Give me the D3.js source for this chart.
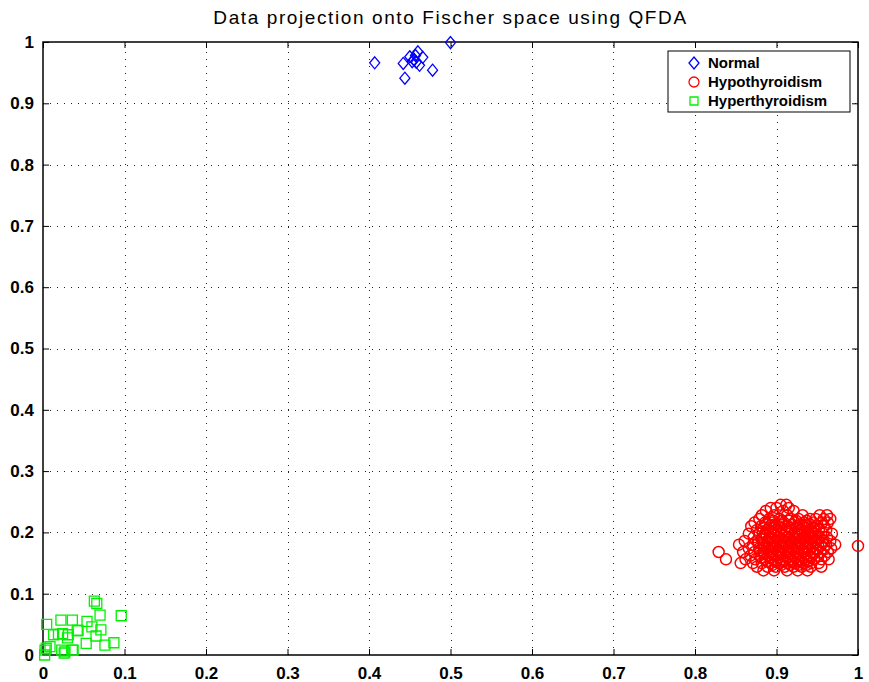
<!DOCTYPE html>
<html>
<head>
<meta charset="utf-8">
<script src="https://cdn.jsdelivr.net/npm/d3@7"></script>
<style>
  body { margin: 0; background: #fff; }
  text { font-family: Arial, "Liberation Sans", Helvetica, sans-serif; }
</style>
</head>
<body>
<div id="chart"></div>
<script>
(function(){
  const width = 869;
  const height = 682;

  // plot box in pixels
  const margin = { left: 43, right: 11, top: 42, bottom: 27 };

  const chartTitle = "Data projection onto Fischer space using QFDA";
  const tickValues = [0, 0.1, 0.2, 0.3, 0.4, 0.5, 0.6, 0.7, 0.8, 0.9, 1];
  const legendLabels = ["Normal", "Hypothyroidism", "Hyperthyroidism"];

  // Normal class (blue diamonds)
  const normalPoints = [
    [0.407, 0.966], [0.442, 0.965], [0.444, 0.941], [0.450, 0.976],
    [0.453, 0.968], [0.455, 0.971], [0.458, 0.967], [0.460, 0.984],
    [0.462, 0.962], [0.457, 0.978], [0.466, 0.975], [0.478, 0.954],
    [0.500, 0.999]
  ];

  // Hyperthyroidism class (green squares)
  const hyperPoints = [
    [0.063, 0.088], [0.066, 0.084], [0.070, 0.065], [0.096, 0.064],
    [0.022, 0.057], [0.036, 0.057], [0.054, 0.055], [0.0045, 0.050],
    [0.060, 0.046], [0.043, 0.040], [0.071, 0.041], [0.065, 0.031],
    [0.013, 0.033], [0.024, 0.035], [0.031, 0.033], [0.030, 0.028],
    [0.019, 0.034], [0.053, 0.019], [0.087, 0.020], [0.076, 0.016],
    [0.0086, 0.0135], [0.0025, 0.008], [0.023, 0.008], [0.036, 0.008],
    [0.026, 0.003], [0.002, 0.000], [0.004, 0.011], [0.037, 0.008],
    [0.042, 0.040], [0.027, 0.005]
  ];

  // Hypothyroidism class (red circles), listed row by row (y, then x values)
  const hypoRows = [
    [0.245, [0.905, 0.912]],
    [0.240, [0.893, 0.900, 0.915]],
    [0.235, [0.887, 0.908, 0.921]],
    [0.228, [0.882, 0.897, 0.913, 0.932, 0.953, 0.962]],
    [0.222, [0.879, 0.891, 0.904, 0.918, 0.927, 0.941, 0.948, 0.958, 0.966]],
    [0.216, [0.873, 0.886, 0.895, 0.909, 0.922, 0.934, 0.945, 0.956, 0.963]],
    [0.210, [0.869, 0.881, 0.892, 0.903, 0.914, 0.925, 0.937, 0.949, 0.958]],
    [0.204, [0.876, 0.888, 0.899, 0.911, 0.919, 0.931, 0.942, 0.952, 0.961]],
    [0.198, [0.866, 0.879, 0.886, 0.897, 0.906, 0.916, 0.928, 0.939, 0.947, 0.957, 0.968]],
    [0.192, [0.872, 0.883, 0.893, 0.902, 0.912, 0.922, 0.933, 0.943, 0.953, 0.962]],
    [0.186, [0.861, 0.877, 0.889, 0.898, 0.908, 0.918, 0.927, 0.937, 0.946, 0.957, 0.966]],
    [0.180, [0.854, 0.871, 0.884, 0.894, 0.904, 0.913, 0.923, 0.932, 0.941, 0.951, 0.961, 0.972]],
    [0.174, [0.866, 0.879, 0.889, 0.899, 0.909, 0.919, 0.928, 0.938, 0.948, 0.958, 0.967]],
    [0.168, [0.829, 0.859, 0.873, 0.884, 0.894, 0.905, 0.915, 0.925, 0.934, 0.944, 0.954, 0.963]],
    [0.162, [0.868, 0.879, 0.890, 0.900, 0.911, 0.921, 0.930, 0.940, 0.950, 0.959]],
    [0.156, [0.838, 0.862, 0.874, 0.886, 0.896, 0.907, 0.917, 0.927, 0.936, 0.946, 0.955, 0.964]],
    [0.150, [0.856, 0.871, 0.882, 0.893, 0.903, 0.913, 0.923, 0.933, 0.943, 0.952]],
    [0.144, [0.876, 0.889, 0.899, 0.910, 0.921, 0.931, 0.942, 0.955]],
    [0.138, [0.884, 0.897, 0.913, 0.926, 0.938]],
    // denser core
    [0.219, [0.896, 0.906, 0.915, 0.924, 0.937]],
    [0.213, [0.887, 0.898, 0.908, 0.919, 0.930, 0.941]],
    [0.207, [0.884, 0.894, 0.906, 0.916, 0.927, 0.936, 0.947]],
    [0.201, [0.883, 0.893, 0.903, 0.913, 0.924, 0.935, 0.944]],
    [0.195, [0.888, 0.899, 0.909, 0.919, 0.928, 0.938, 0.948]],
    [0.189, [0.882, 0.892, 0.903, 0.914, 0.923, 0.932, 0.942, 0.951]],
    [0.183, [0.878, 0.889, 0.900, 0.910, 0.920, 0.929, 0.939, 0.948, 0.956]],
    [0.177, [0.885, 0.895, 0.905, 0.915, 0.925, 0.935, 0.944]],
    [0.171, [0.880, 0.890, 0.901, 0.911, 0.921, 0.931, 0.940, 0.950]],
    [0.165, [0.884, 0.895, 0.906, 0.916, 0.926, 0.935, 0.945]],
    [0.159, [0.881, 0.892, 0.902, 0.913, 0.923, 0.933, 0.942]],
    [0.153, [0.888, 0.898, 0.908, 0.918, 0.928, 0.938]],
    [0.147, [0.895, 0.906, 0.917, 0.927, 0.937]],
    // outlier
    [0.178, [1.000]]
  ];
  const hypoPoints = hypoRows.flatMap(([y, xs]) => xs.map(x => [x, y]));

  const svg = d3.select("#chart").append("svg")
      .attr("width", width)
      .attr("height", height);

  const x = d3.scaleLinear().domain([0, 1]).range([margin.left, width - margin.right]);
  const y = d3.scaleLinear().domain([0, 1]).range([height - margin.bottom, margin.top]);

  const x0 = x(0), x1 = x(1), y0 = y(0), y1 = y(1);

  // title
  svg.append("text")
      .attr("x", (x0 + x1) / 2)
      .attr("y", 24)
      .attr("text-anchor", "middle")
      .attr("font-size", 19)
      .attr("letter-spacing", 1.6)
      .text(chartTitle);

  // dotted grid
  const grid = svg.append("g")
      .attr("stroke", "#222")
      .attr("stroke-width", 1)
      .attr("stroke-dasharray", "1,6");
  grid.selectAll(".gx").data(tickValues.slice(1, -1)).join("line")
      .attr("x1", d => Math.round(x(d)) + 0.5).attr("x2", d => Math.round(x(d)) + 0.5)
      .attr("y1", y0).attr("y2", y1);
  grid.selectAll(".gy").data(tickValues.slice(1, -1)).join("line")
      .attr("y1", d => Math.round(y(d)) + 0.5).attr("y2", d => Math.round(y(d)) + 0.5)
      .attr("x1", x0).attr("x2", x1);

  // axes (ticks pointing inward on all four sides)
  const axisFont = g => g.call(s => s.select(".domain").remove())
      .selectAll("text")
      .attr("font-size", 17)
      .attr("font-weight", "bold")
      .attr("fill", "#000");

  svg.append("g")
      .attr("transform", `translate(0,${y0})`)
      .call(d3.axisBottom(x).tickValues(tickValues).tickFormat(d3.format("~g")).tickSizeInner(-6).tickSizeOuter(0).tickPadding(12))
      .call(axisFont);
  svg.append("g")
      .attr("transform", `translate(0,${y1})`)
      .call(d3.axisTop(x).tickValues(tickValues).tickFormat("").tickSizeInner(-6).tickSizeOuter(0))
      .call(g => g.select(".domain").remove());
  svg.append("g")
      .attr("transform", `translate(${x0},0)`)
      .call(d3.axisLeft(y).tickValues(tickValues).tickFormat(d3.format("~g")).tickSizeInner(-6).tickSizeOuter(0).tickPadding(9))
      .call(axisFont);
  svg.append("g")
      .attr("transform", `translate(${x1},0)`)
      .call(d3.axisRight(y).tickValues(tickValues).tickFormat("").tickSizeInner(-6).tickSizeOuter(0))
      .call(g => g.select(".domain").remove());

  svg.append("rect")
      .attr("x", x0).attr("y", y1)
      .attr("width", x1 - x0).attr("height", y0 - y1)
      .attr("fill", "none")
      .attr("stroke", "#000")
      .attr("stroke-width", 1.5);

  // marker shapes
  const diamond = (cx, cy) => `M${cx},${cy - 6}L${cx + 5},${cy}L${cx},${cy + 6}L${cx - 5},${cy}Z`;
  const square = (cx, cy) => `M${cx - 5},${cy - 5}h10v10h-10Z`;

  svg.append("g").selectAll("circle").data(hypoPoints).join("circle")
      .attr("cx", d => x(d[0])).attr("cy", d => y(d[1]))
      .attr("r", 5.5)
      .attr("fill", "none").attr("stroke", "#ff0000").attr("stroke-width", 1.5);

  svg.append("g").selectAll("path").data(hyperPoints).join("path")
      .attr("d", d => square(x(d[0]), y(d[1])))
      .attr("fill", "none").attr("stroke", "#00f000").attr("stroke-width", 1.3);

  svg.append("g").selectAll("path").data(normalPoints).join("path")
      .attr("d", d => diamond(x(d[0]), y(d[1])))
      .attr("fill", "none").attr("stroke", "#0000ff").attr("stroke-width", 1.3);

  // legend
  const legend = svg.append("g").attr("transform", "translate(668,51)");
  legend.append("rect")
      .attr("width", 182).attr("height", 61)
      .attr("fill", "#fff").attr("stroke", "#000").attr("stroke-width", 1);
  const colors = ["#0000ff", "#ff0000", "#00f000"];
  legendLabels.forEach((label, i) => {
    const cy = 12 + i * 19;
    const mark = legend.append("g").attr("fill", "none").attr("stroke", colors[i]).attr("stroke-width", 1.3);
    if (i === 0) mark.append("path").attr("d", diamond(26, cy));
    else if (i === 1) mark.append("circle").attr("cx", 26).attr("cy", cy).attr("r", 5);
    else mark.append("path").attr("d", `M22,${cy - 4}h8v8h-8Z`);
    legend.append("text")
        .attr("x", 40).attr("y", cy + 5)
        .attr("font-size", 15).attr("font-weight", "bold")
        .text(label);
  });
})();
</script>
</body>
</html>
